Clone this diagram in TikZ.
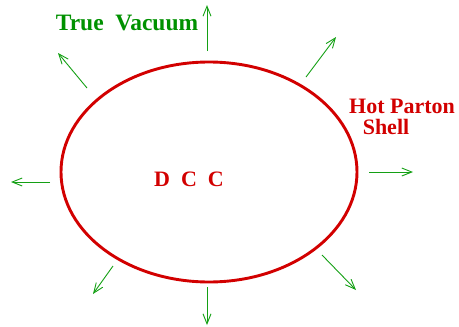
\documentclass[tikz,border=0pt]{standalone}
\usepackage{fontspec}
\setmainfont{Liberation Serif}
\usetikzlibrary{arrows.meta}
\definecolor{vacgreen}{RGB}{0,145,0}
\definecolor{arrgreen}{RGB}{20,160,20}
\definecolor{shellred}{RGB}{210,0,0}
\tikzset{
  flow/.style={draw=arrgreen, line width=0.9pt, -{Straight Barb[length=10pt,width=8pt,line width=0.9pt]}},
  lbl/.style={font=\fontsize{22}{24}\selectfont\bfseries, inner sep=0pt}
}
\begin{document}
\begin{tikzpicture}[x=1pt,y=-1pt]
  \useasboundingbox (0,0) rectangle (459,327);
  % the shell
  \draw[shellred, line width=2.9pt] (209,172) ellipse [x radius=148, y radius=110];
  \node[lbl, text=shellred] (dcc) at (189,179) {D\,\,\,C\,\,\,C};
  \node[lbl, text=shellred] (hot) at (402,106) {Hot Parton};
  \node[lbl, text=shellred] (shl) at (386,127) {Shell};
  \node[lbl, text=vacgreen, font=\fontsize{23.5}{25}\selectfont\bfseries] (vac) at (127,23) {True\ \ Vacuum};
  % outward arrows
  \coordinate (n0) at (207,51);  \coordinate (n1) at (207,5);
  \coordinate (ne0) at (306,77); \coordinate (ne1) at (336,37);
  \coordinate (e0) at (369,172); \coordinate (e1) at (413,172);
  \coordinate (se0) at (322,255); \coordinate (se1) at (356,290);
  \coordinate (s0) at (207,287); \coordinate (s1) at (207,325);
  \coordinate (sw0) at (113,266); \coordinate (sw1) at (93,294);
  \coordinate (w0) at (50,182);  \coordinate (w1) at (11,182);
  \coordinate (nw0) at (87,88);  \coordinate (nw1) at (58,53);
  \draw[flow] (n0) -- (n1);
  \draw[flow] (ne0) -- (ne1);
  \draw[flow] (e0) -- (e1);
  \draw[flow] (se0) -- (se1);
  \draw[flow] (s0) -- (s1);
  \draw[flow] (sw0) -- (sw1);
  \draw[flow] (w0) -- (w1);
  \draw[flow] (nw0) -- (nw1);
\end{tikzpicture}
\end{document}
